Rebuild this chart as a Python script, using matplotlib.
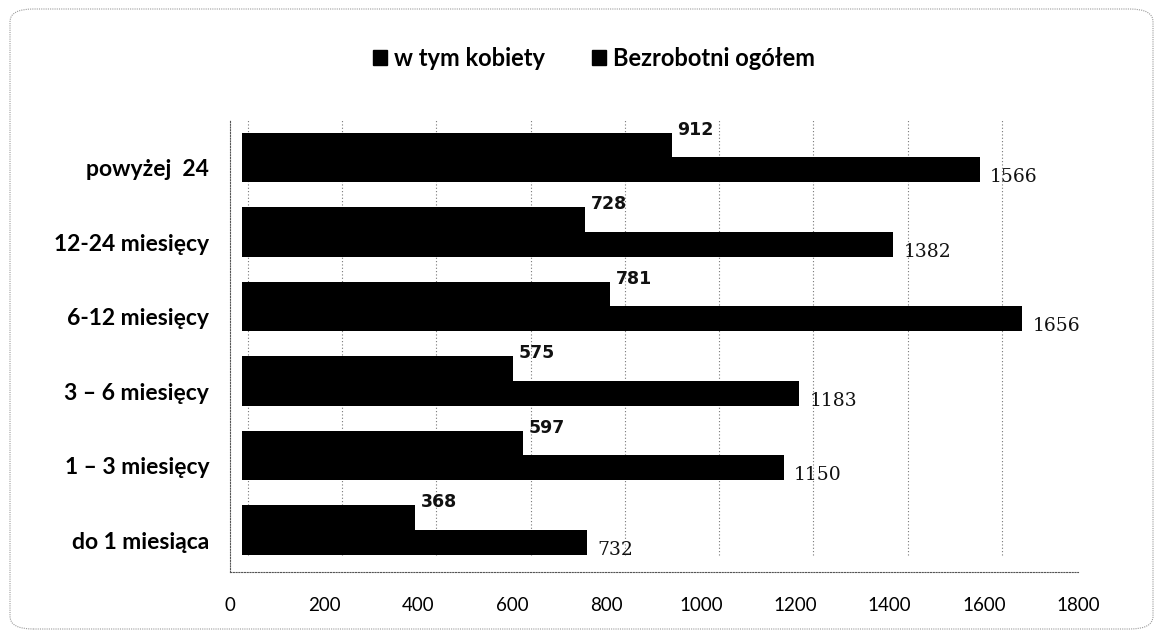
import matplotlib
matplotlib.use("Agg")
import matplotlib.pyplot as plt
from matplotlib.patches import FancyBboxPatch, Rectangle
from matplotlib.transforms import ScaledTranslation
import numpy as np

categories = ["do 1 miesiąca", "1 – 3 miesięcy", "3 – 6 miesięcy",
              "6-12 miesięcy", "12-24 miesięcy", "powyżej  24"]
kobiety = [368, 597, 575, 781, 728, 912]
ogolem = [732, 1150, 1183, 1656, 1382, 1566]
series_names = ["w tym kobiety", "Bezrobotni ogółem"]
xticks = [0, 200, 400, 600, 800, 1000, 1200, 1400, 1600, 1800]

W, H = 1163, 637
fig = plt.figure(figsize=(W / 100, H / 100), dpi=100)
fig.patch.set_facecolor("white")

# rounded frame
frame = FancyBboxPatch((10 / W, 8 / H), 1143 / W, 620 / H,
                       boxstyle="round,pad=0,rounding_size=0.02",
                       transform=fig.transFigure, fill=False,
                       edgecolor="#9a9a9a", linewidth=0.8, linestyle=(0, (1, 1)))
fig.patches.append(frame)

left, right, bottom, top = 230, 1078, 572, 120
ax = fig.add_axes([left / W, 1 - bottom / H, (right - left) / W, (bottom - top) / H])
ax.set_xlim(0, 1800)
ax.set_ylim(-0.564, 5.503)

# 3D-like depth offsets
bar_tr = ax.transData + ScaledTranslation(12 / 100, 0, fig.dpi_scale_trans)
wall_tr = ax.transData + ScaledTranslation(18 / 100, 0, fig.dpi_scale_trans)

y = np.arange(len(categories))
bh = 0.33
b1 = ax.barh(y + bh / 2, kobiety, height=bh, color="black", zorder=3)
b2 = ax.barh(y - bh / 2, ogolem, height=bh, color="black", zorder=3)
for p in list(b1) + list(b2):
    p.set_transform(bar_tr)

# back wall gridlines
ax.vlines(xticks, -0.33, 5.5, colors="#777777", linestyles=(0, (1, 2)),
          linewidth=0.8, zorder=0, transform=wall_tr)

ax.set_xticks(xticks)
ax.set_xticklabels([str(t) for t in xticks], fontsize=13.5, family="Lato")
ax.tick_params(axis="x", length=0, pad=18)
ax.set_yticks(y - 0.14)
ax.set_yticklabels(categories, fontsize=16.5, fontweight="bold", family="Lato")
ax.tick_params(axis="y", length=0, pad=15)

for s in ["top", "right"]:
    ax.spines[s].set_visible(False)
for s in ["left", "bottom"]:
    ax.spines[s].set_linestyle((0, (1, 1.5)))
    ax.spines[s].set_color("#555555")
    ax.spines[s].set_linewidth(0.8)

for i in range(len(categories)):
    ax.text(kobiety[i] + 12, y[i] + bh + 0.04, str(kobiety[i]), fontsize=12.5,
            fontweight="bold", family="DejaVu Sans", va="center", ha="left", zorder=4,
            color="#111111", transform=bar_tr)
    ax.text(ogolem[i] + 22, y[i] - bh / 2 - 0.1, str(ogolem[i]), fontsize=13.5,
            family="DejaVu Serif", va="center", ha="left", zorder=4, color="#111111",
            transform=bar_tr)

# legend
handles = [Rectangle((0, 0), 1, 1, color="black") for _ in series_names]
leg = fig.legend(handles, series_names, loc="center", bbox_to_anchor=(594 / W, 1 - 58 / H),
                 ncol=2, frameon=False, handlelength=0.6, handleheight=0.6,
                 handletextpad=0.3, columnspacing=2.0,
                 prop={"family": "Lato", "weight": "bold", "size": 17})

fig.savefig("out.png", dpi=100, facecolor="white")
